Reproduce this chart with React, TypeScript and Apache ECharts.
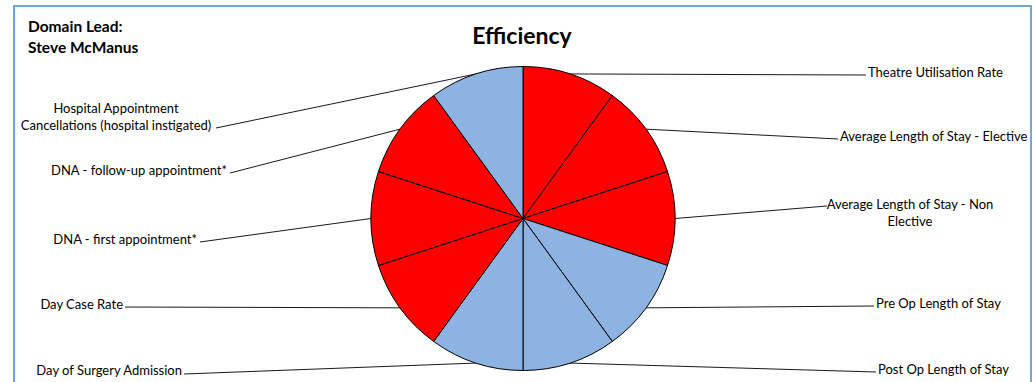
import React, { useEffect, useRef } from "react";
import * as echarts from "echarts";

// Efficiency domain indicators, clockwise from 12 o'clock
const indicators = [
  "Theatre Utilisation Rate",
  "Average Length of Stay - Elective",
  "Average Length of Stay - Non\nElective",
  "Pre Op Length of Stay",
  "Post Op Length of Stay",
  "Day of Surgery Admission",
  "Day Case Rate",
  "DNA - first appointment*",
  "DNA - follow-up appointment*",
  "Hospital Appointment\nCancellations (hospital instigated)",
];

// every indicator gets an equal share of the wheel
const weights = [1, 1, 1, 1, 1, 1, 1, 1, 1, 1];

// RAG-style rating of each indicator
const ratings = ["Red", "Red", "Red", "Blue", "Blue", "Blue", "Red", "Red", "Red", "Blue"];

const ratingColors: Record<string, string> = {
  Red: "#FF0000",
  Blue: "#8DB3E2",
};

// where each callout label sits and where its leader line stops
const calloutLayout = [
  { x: 868, y: 72, align: "left", end: [866, 75] },
  { x: 840, y: 136, align: "left", end: [838, 139] },
  { x: 910, y: 212.5, align: "center", end: [827, 206] },
  { x: 876, y: 303, align: "left", end: [874, 306] },
  { x: 878, y: 369, align: "left", end: [876, 372] },
  { x: 182, y: 370, align: "right", end: [184, 374] },
  { x: 123, y: 304, align: "right", end: [125, 307] },
  { x: 197, y: 239, align: "right", end: [200, 242] },
  { x: 227, y: 170, align: "right", end: [230, 173] },
  { x: 116, y: 116.5, align: "center", end: [216, 128] },
];

const FONT = "Lato, 'Open Sans', sans-serif";

export default function App() {
  const ref = useRef<HTMLDivElement>(null);

  useEffect(() => {
    if (!ref.current) return;
    const chart = echarts.init(ref.current, null, { renderer: "svg" });

    const data = indicators.map((name, i) => ({
      name,
      value: weights[i],
      itemStyle: { color: ratingColors[ratings[i]] },
    }));

    chart.setOption({
      animation: false,
      backgroundColor: "#ffffff",
      graphic: [
        {
          type: "rect",
          silent: true,
          shape: { x: 14, y: 6, width: 1017, height: 430 },
          style: { fill: "none", stroke: "#6FA6DC", lineWidth: 2 },
        },
        {
          type: "text",
          x: 522,
          y: 35,
          style: {
            text: "Efficiency",
            font: `bold 23px ${FONT}`,
            fill: "#000",
            align: "center",
            verticalAlign: "middle",
          },
        },
        {
          type: "text",
          x: 28,
          y: 15,
          style: {
            text: "Domain Lead:\nSteve McManus",
            font: `bold 15.5px ${FONT}`,
            lineHeight: 21,
            fill: "#000",
            align: "left",
            verticalAlign: "top",
          },
        },
      ],
      series: [
        {
          type: "pie",
          center: [523, 218.5],
          radius: 152,
          startAngle: 90,
          clockwise: true,
          avoidLabelOverlap: false,
          silent: true,
          emphasis: { disabled: true },
          itemStyle: { borderColor: "#000", borderWidth: 1 },
          label: {
            show: true,
            position: "outside",
            color: "#000",
            fontFamily: FONT,
            fontSize: 13,
            lineHeight: 17,
          },
          labelLine: {
            show: true,
            length: 10,
            length2: 10,
            lineStyle: { color: "#1a1a1a", width: 1 },
          },
          labelLayout: (params: any) => {
            const c = calloutLayout[params.dataIndex];
            const start =
              params.labelLinePoints && params.labelLinePoints[0]
                ? params.labelLinePoints[0]
                : c.end;
            return {
              x: c.x,
              y: c.y,
              align: c.align,
              verticalAlign: "middle",
              hideOverlap: false,
              labelLinePoints: [start, c.end, c.end],
            };
          },
          data,
        },
      ],
    });

    return () => chart.dispose();
  }, []);

  return (
    <div
      ref={ref}
      style={{ position: "absolute", left: 0, top: 0, width: 1035, height: 382 }}
    />
  );
}
